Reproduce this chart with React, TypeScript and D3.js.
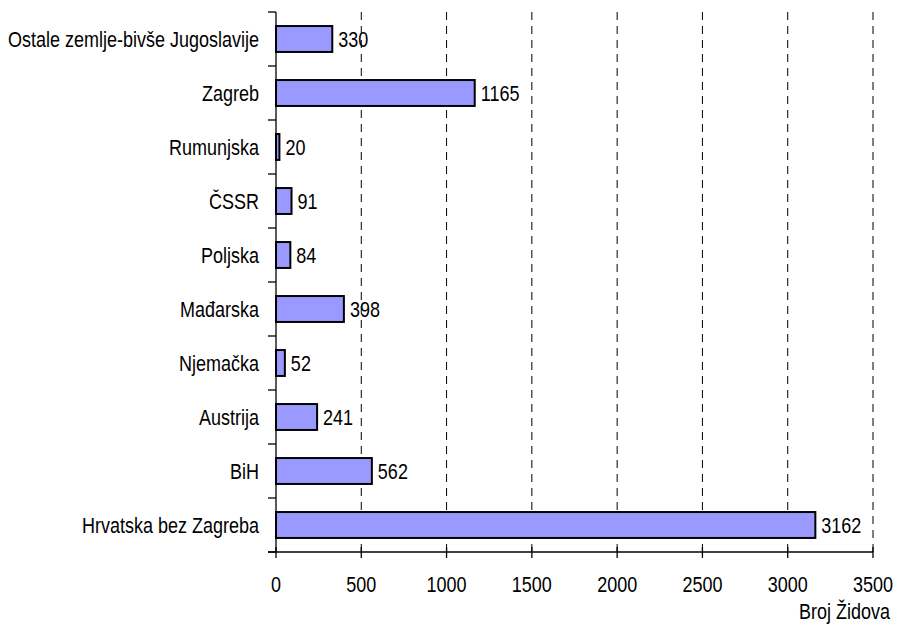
import React, { useEffect, useRef } from 'react';
import * as d3 from 'd3';

// categories listed top to bottom
const categories = [
  'Ostale zemlje-bivše Jugoslavije',
  'Zagreb',
  'Rumunjska',
  'ČSSR',
  'Poljska',
  'Mađarska',
  'Njemačka',
  'Austrija',
  'BiH',
  'Hrvatska bez Zagreba',
];
const values = [330, 1165, 20, 91, 84, 398, 52, 241, 562, 3162];
const xTicks = [0, 500, 1000, 1500, 2000, 2500, 3000, 3500];
const xTitle = 'Broj Židova';

const W = 898;
const H = 626;
const FONT = '"Liberation Sans", Arial, sans-serif';
const FS = 18;
const STRETCH = 1.26; // text in the original is drawn a bit taller than wide

const App: React.FC = () => {
  const ref = useRef<SVGSVGElement>(null);

  useEffect(() => {
    if (!ref.current) return;
    const svg = d3.select(ref.current);
    svg.selectAll('*').remove();

    const left = 276;
    const right = 873;
    const top = 12;
    const bottom = 552;

    const x = d3.scaleLinear().domain([0, 3500]).range([left, right]);
    const y = d3
      .scaleBand<string>()
      .domain(categories)
      .range([top, bottom])
      .paddingInner(0.52)
      .paddingOuter(0.26);

    const g = svg.append('g');

    // helper for stretched text
    const label = (
      sel: d3.Selection<SVGGElement, unknown, null, undefined>,
      tx: number,
      ty: number,
      txt: string,
      anchor: string,
      dy = '0.358em',
    ) => {
      sel
        .append('text')
        .attr('transform', `translate(${tx},${ty}) scale(1,${STRETCH})`)
        .attr('dy', dy)
        .attr('text-anchor', anchor)
        .attr('font-family', FONT)
        .attr('font-size', FS)
        .attr('fill', '#000')
        .text(txt);
    };

    // dashed gridlines
    g.selectAll('.grid')
      .data(xTicks.filter((t) => t > 0))
      .enter()
      .append('line')
      .attr('x1', (d) => x(d))
      .attr('x2', (d) => x(d))
      .attr('y1', top)
      .attr('y2', bottom)
      .attr('stroke', '#000')
      .attr('stroke-width', 1)
      .attr('stroke-dasharray', '8,6');

    // bars
    g.selectAll('.bar')
      .data(values)
      .enter()
      .append('rect')
      .attr('x', x(0))
      .attr('y', (d, i) => y(categories[i])!)
      .attr('width', (d) => x(d) - x(0))
      .attr('height', y.bandwidth())
      .attr('fill', '#9999FF')
      .attr('stroke', '#000')
      .attr('stroke-width', 2);

    // value labels
    values.forEach((v, i) => {
      label(g, x(v) + 6, y(categories[i])! + y.bandwidth() / 2, String(v), 'start');
    });

    // y axis line + ticks at category boundaries
    g.append('line')
      .attr('x1', left).attr('x2', left)
      .attr('y1', top).attr('y2', bottom)
      .attr('stroke', '#000').attr('stroke-width', 1.3);
    const step = (bottom - top) / categories.length;
    g.selectAll('.ytick')
      .data(d3.range(categories.length + 1))
      .enter()
      .append('line')
      .attr('x1', left - 8).attr('x2', left)
      .attr('y1', (d) => top + d * step)
      .attr('y2', (d) => top + d * step)
      .attr('stroke', '#000').attr('stroke-width', 1.3);

    categories.forEach((c) => {
      label(g, 259, y(c)! + y.bandwidth() / 2, c, 'end');
    });

    // x axis
    g.append('line')
      .attr('x1', left - 8).attr('x2', right)
      .attr('y1', bottom).attr('y2', bottom)
      .attr('stroke', '#000').attr('stroke-width', 1.3);
    g.selectAll('.xtick')
      .data(xTicks)
      .enter()
      .append('line')
      .attr('x1', (d) => x(d)).attr('x2', (d) => x(d))
      .attr('y1', bottom - 5).attr('y2', bottom + 6)
      .attr('stroke', '#000').attr('stroke-width', 1.3);
    xTicks.forEach((t) => {
      label(g, x(t), 592, String(t), 'middle', '0');
    });

    label(g, 890, 619, xTitle, 'end', '0');
  }, []);

  return (
    <svg
      ref={ref}
      width={W}
      height={H}
      style={{ position: 'absolute', left: 0, top: 0, background: '#fff', display: 'block' }}
    />
  );
};

export default App;
